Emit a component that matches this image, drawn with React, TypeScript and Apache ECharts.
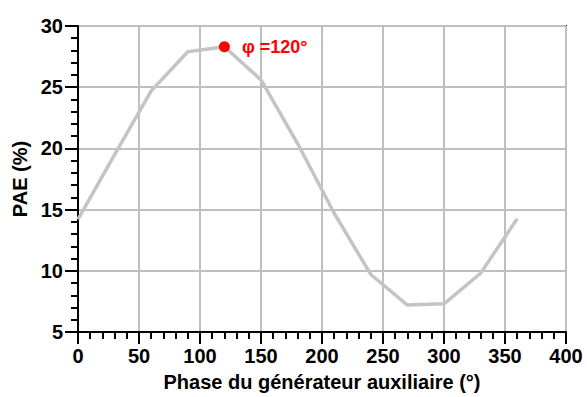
import React, { useEffect, useRef } from "react";
import * as echarts from "echarts";

const phases = [0, 30, 60, 90, 120, 150, 180, 210, 240, 270, 300, 330, 360];
const pae = [14.2, 19.5, 24.7, 27.9, 28.3, 25.6, 20.4, 14.7, 9.7, 7.2, 7.3, 9.8, 14.25];
const optimum = [120, 28.3];
const optimumLabel = "φ =120°";
const xTitle = "Phase du générateur auxiliaire (°)";
const yTitle = "PAE (%)";

const FONT = "Liberation Sans, Arial, Helvetica, sans-serif";

export default function App() {
  const ref = useRef<HTMLDivElement>(null);
  useEffect(() => {
    if (!ref.current) return;
    const chart = echarts.init(ref.current, null, { renderer: "svg" });
    chart.setOption({
      animation: false,
      backgroundColor: "#ffffff",
      grid: {
        left: 78,
        right: 21,
        top: 26,
        bottom: 62,
        show: true,
        borderColor: "#000",
        borderWidth: 2,
        backgroundColor: "transparent",
      },
      xAxis: {
        type: "value",
        min: 0,
        max: 400,
        interval: 50,
        name: xTitle,
        nameLocation: "middle",
        nameGap: 40,
        nameTextStyle: { fontFamily: FONT, fontWeight: "bold", fontSize: 20, color: "#000" },
        axisLine: { show: true, onZero: false, lineStyle: { color: "#000", width: 2 } },
        axisTick: { show: true, inside: false, length: 12, lineStyle: { color: "#000", width: 2 } },
        minorTick: { show: true, splitNumber: 5, length: 7, lineStyle: { color: "#000", width: 2 } },
        axisLabel: { margin: 14, fontFamily: FONT, fontWeight: "bold", fontSize: 20, color: "#000" },
        splitLine: { show: true, lineStyle: { color: "#bfbfbf", width: 2 } },
      },
      yAxis: {
        type: "value",
        min: 5,
        max: 30,
        interval: 5,
        name: yTitle,
        nameLocation: "middle",
        nameGap: 45,
        nameRotate: 90,
        nameTextStyle: { fontFamily: FONT, fontWeight: "bold", fontSize: 20, color: "#000" },
        axisLine: { show: true, onZero: false, lineStyle: { color: "#000", width: 2 } },
        axisTick: { show: true, inside: false, length: 13, lineStyle: { color: "#000", width: 2 } },
        minorTick: { show: true, splitNumber: 5, length: 7, lineStyle: { color: "#000", width: 2 } },
        axisLabel: { margin: 15, fontFamily: FONT, fontWeight: "bold", fontSize: 20, color: "#000" },
        splitLine: { show: true, lineStyle: { color: "#bfbfbf", width: 2 } },
      },
      series: [
        {
          type: "line",
          data: phases.map((p, i) => [p, pae[i]]),
          showSymbol: false,
          symbol: "none",
          lineStyle: { color: "#c4c4c4", width: 3.5 },
          z: 3,
        },
        {
          type: "scatter",
          data: [optimum],
          symbol: "circle",
          symbolSize: 11,
          itemStyle: { color: "#ff0000", opacity: 1 },
          label: {
            show: true,
            position: "right",
            distance: 12,
            formatter: optimumLabel,
            fontFamily: FONT,
            fontWeight: "bold",
            fontSize: 18,
            color: "#ff0000",
          },
          z: 5,
        },
      ],
    });
    return () => chart.dispose();
  }, []);
  return <div ref={ref} style={{ width: 587, height: 397, position: "absolute", left: 0, top: 0 }} />;
}
